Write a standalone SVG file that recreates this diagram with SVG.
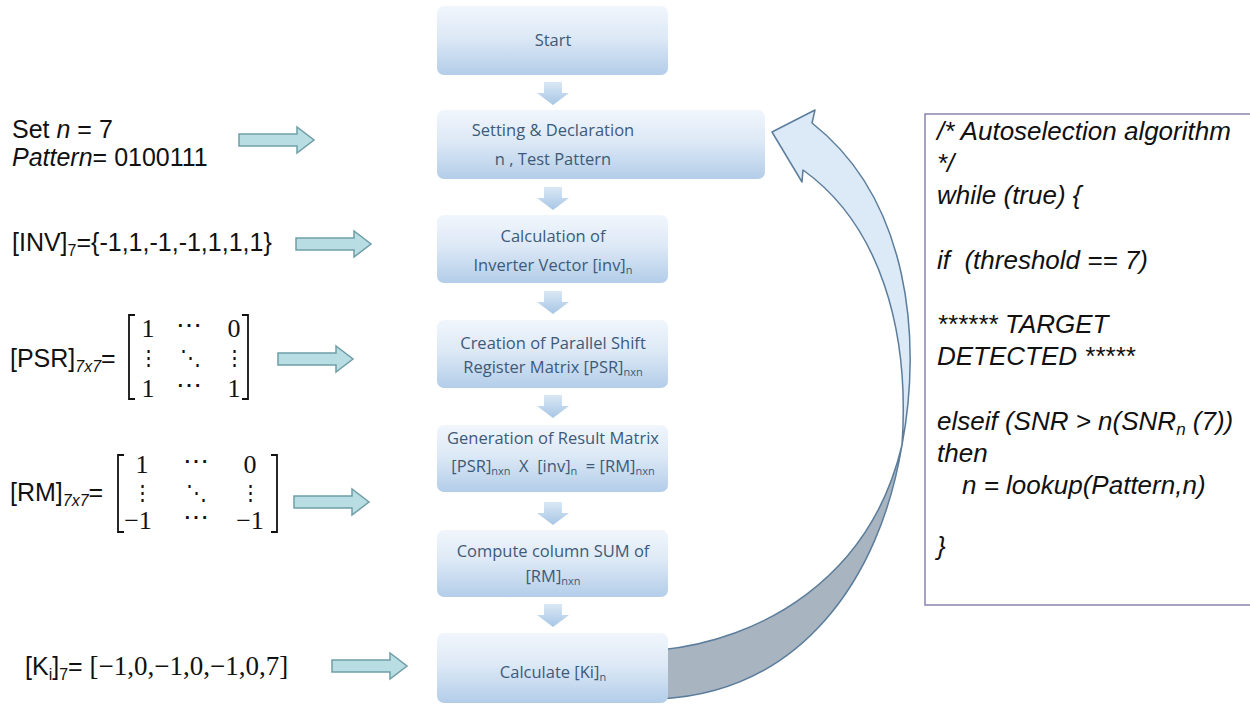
<svg xmlns="http://www.w3.org/2000/svg" xmlns:xlink="http://www.w3.org/1999/xlink" width="1250" height="704" viewBox="0 0 1250 704">
<style>
.bt{font-family:"Open Sans","Noto Sans",sans-serif;font-size:16.5px;fill:#3d5a78;text-anchor:middle}
.bs{font-size:11px}
.lt{font-family:"Liberation Sans",Arial,sans-serif;font-size:25px;fill:#111}
.ls{font-size:16px}
.mt{font-family:"Liberation Serif","DejaVu Serif",serif;font-size:26px;fill:#111;text-anchor:middle}
.md{font-size:21px}
.ct{font-family:"Liberation Sans",Arial,sans-serif;font-size:26px;font-style:italic;fill:#111}
.box{fill:url(#boxg)}
.rarr{fill:#b8dde3;stroke:#6f9ea8;stroke-width:1.5}
.brk{fill:none;stroke:#111;stroke-width:1.8}
</style>
<defs>
<linearGradient id="boxg" x1="0" y1="0" x2="0" y2="1">
<stop offset="0" stop-color="#f1f6fc"/>
<stop offset="0.45" stop-color="#dde9f6"/>
<stop offset="1" stop-color="#b3cde9"/>
</linearGradient>
<linearGradient id="darg" x1="0" y1="0" x2="0" y2="1">
<stop offset="0" stop-color="#dae8f5"/>
<stop offset="1" stop-color="#a7c6e5"/>
</linearGradient>
<path id="darrow" d="M-9,0 H9 V11 H16 L0,23 L-16,11 H-9 Z"/>
<path id="rarrow" d="M0,-6 H58 V-13 L75,0 L58,13 V6 H0 Z"/>
</defs>
<rect width="1250" height="704" fill="#ffffff"/>

<g id="connectors">
<g id="loop-arrow" stroke="#5b7d9c" stroke-width="1.5" stroke-linejoin="round">
<path d="M660,650 C760,640 870,580 902,445 C880,580 800,692 660,699 Z" fill="#a9b4c1"/>
<path d="M902,445 C922,340 910,200 812,123 L815,110 L772,132 L802,182 L803,170 C880,225 910,330 902,445 Z" fill="#dce9f7"/>
</g>
<g id="down-arrows" fill="url(#darg)">
<use xlink:href="#darrow" x="553" y="82"/>
<use xlink:href="#darrow" x="553" y="187"/>
<use xlink:href="#darrow" x="553" y="291"/>
<use xlink:href="#darrow" x="553" y="395"/>
<use xlink:href="#darrow" x="553" y="502"/>
<use xlink:href="#darrow" x="553" y="604"/>
</g>
<g id="input-arrows" class="rarr">
<use xlink:href="#rarrow" x="239" y="140"/>
<use xlink:href="#rarrow" x="296" y="244"/>
<use xlink:href="#rarrow" x="278" y="359"/>
<use xlink:href="#rarrow" x="294" y="502"/>
<use xlink:href="#rarrow" x="332" y="666"/>
</g>
</g>

<g id="start">
<rect class="box" x="437" y="6" width="231" height="69" rx="7"/>
<text class="bt" x="553" y="46">Start</text>
</g>
<g id="setting">
<rect class="box" x="437" y="110" width="328" height="69" rx="7"/>
<text class="bt" x="553" y="136">Setting &amp; Declaration</text>
<text class="bt" x="553" y="165">n , Test Pattern</text>
</g>
<g id="inverter">
<rect class="box" x="437" y="215" width="231" height="68" rx="7"/>
<text class="bt" x="553" y="242">Calculation of</text>
<text class="bt" x="553" y="271">Inverter Vector [inv]<tspan class="bs" dy="3">n</tspan></text>
</g>
<g id="psr">
<rect class="box" x="437" y="320" width="231" height="68" rx="7"/>
<text class="bt" x="553" y="349">Creation of Parallel Shift</text>
<text class="bt" x="553" y="373">Register Matrix [PSR]<tspan class="bs" dy="3">nxn</tspan></text>
</g>
<g id="result">
<rect class="box" x="437" y="425" width="231" height="67" rx="7"/>
<text class="bt" x="553" y="444">Generation of Result Matrix</text>
<text class="bt" x="553" y="472" xml:space="preserve">[PSR]<tspan class="bs" dy="3">nxn</tspan><tspan dy="-3">  X  [inv]</tspan><tspan class="bs" dy="3">n</tspan><tspan dy="-3">  = [RM]</tspan><tspan class="bs" dy="3">nxn</tspan></text>
</g>
<g id="colsum">
<rect class="box" x="437" y="530" width="231" height="67" rx="7"/>
<text class="bt" x="553" y="557">Compute column SUM of</text>
<text class="bt" x="553" y="582">[RM]<tspan class="bs" dy="3">nxn</tspan></text>
</g>
<g id="ki">
<rect class="box" x="437" y="633" width="231" height="70" rx="7"/>
<text class="bt" x="553" y="678">Calculate [Ki]<tspan class="bs" dy="3">n</tspan></text>
</g>

<g id="in-set">
<text class="lt" x="12" y="138">Set <tspan font-style="italic">n</tspan> = 7</text>
<text class="lt" x="12" y="166"><tspan font-style="italic">Pattern</tspan>= 0100111</text>
</g>
<g id="in-inv">
<text class="lt" x="12" y="251">[INV]<tspan class="ls" dy="5">7</tspan><tspan dy="-5">={-1,1,-1,-1,1,1,1}</tspan></text>
</g>
<g id="in-psr">
<text class="lt" x="10" y="367">[PSR]<tspan class="ls" font-style="italic" dy="5">7x7</tspan><tspan dy="-5">=</tspan></text>
<path class="brk" d="M135,315 H129 V399 H135 M242,315 H248 V399 H242"/>
<text class="mt" x="148" y="337">1</text><text class="mt" x="189" y="334">⋯</text><text class="mt" x="234" y="337">0</text>
<text class="mt md" x="148" y="365">⋮</text><text class="mt md" x="190" y="365">⋱</text><text class="mt md" x="234" y="365">⋮</text>
<text class="mt" x="148" y="397">1</text><text class="mt" x="189" y="394">⋯</text><text class="mt" x="234" y="397">1</text>
</g>
<g id="in-rm">
<text class="lt" x="10" y="501">[RM]<tspan class="ls" font-style="italic" dy="5">7x7</tspan><tspan dy="-5">=</tspan></text>
<path class="brk" d="M124,455 H118 V532 H124 M271,455 H277 V532 H271"/>
<text class="mt" x="142" y="473">1</text><text class="mt" x="196" y="470">⋯</text><text class="mt" x="250" y="473">0</text>
<text class="mt md" x="142" y="500">⋮</text><text class="mt md" x="196" y="500">⋱</text><text class="mt md" x="250" y="500">⋮</text>
<text class="mt" x="138" y="529">−1</text><text class="mt" x="196" y="526">⋯</text><text class="mt" x="250" y="529">−1</text>
</g>
<g id="in-ki">
<text class="lt" x="25" y="675">[K<tspan class="ls" dy="5">i</tspan><tspan dy="-5">]</tspan><tspan class="ls" dy="5">7</tspan><tspan dy="-5">= </tspan><tspan font-family="Liberation Serif, DejaVu Serif, serif" font-size="27">[−1,0,−1,0,−1,0,7]</tspan></text>
</g>

<g id="algorithm">
<rect x="925" y="114" width="335" height="491" fill="#ffffff" stroke="#8884b0" stroke-width="1.5"/>
<text class="ct" x="937" y="140">/* Autoselection algorithm</text>
<text class="ct" x="937" y="172">*/</text>
<text class="ct" x="937" y="204">while (true) {</text>
<text class="ct" x="937" y="269" xml:space="preserve">if  (threshold == 7)</text>
<text class="ct" x="937" y="333">****** TARGET</text>
<text class="ct" x="937" y="365">DETECTED *****</text>
<text class="ct" x="937" y="430">elseif (SNR &gt; n(SNR<tspan font-size="17" dy="5">n</tspan><tspan dy="-5"> (7))</tspan></text>
<text class="ct" x="937" y="462">then</text>
<text class="ct" x="962" y="494">n = lookup(Pattern,n)</text>
<text class="ct" x="937" y="555">}</text>
</g>
</svg>
